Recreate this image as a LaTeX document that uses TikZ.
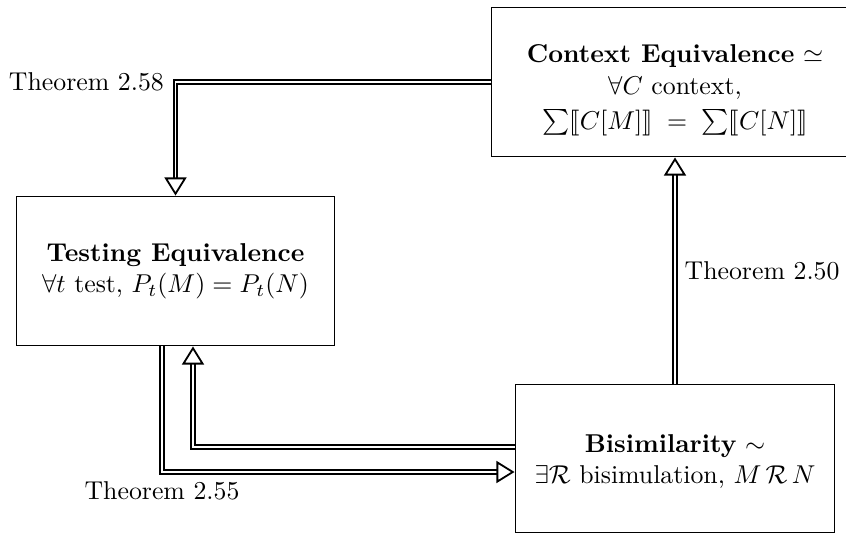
\documentclass[tikz,border=0pt]{standalone}
\usepackage{amsmath,amssymb,stmaryrd}
\usetikzlibrary{arrows.meta}
\begin{document}
\begin{tikzpicture}[x=0.3876pt,y=-0.3876pt,
  box/.style={draw, line width=0.4pt, align=center, inner sep=0pt},
  impl/.style={double, line width=0.8pt, double distance=0.6pt,
    -{Triangle[open, length=7pt, width=8.5pt, line width=0.7pt]}},
  lbl/.style={inner sep=3.33pt}]
\useasboundingbox (0,0) rectangle (846,536);
\node[box, minimum width=123.6pt, minimum height=58.1pt] (test) at (175.5,271)
  {\textbf{Testing Equivalence}\\ $\forall t$ test, $P_t(M) = P_t(N)$};
\node[box, minimum width=141.9pt, minimum height=58.1pt] (ctx) at (675,82)
  {\rule{0pt}{13pt}\textbf{Context Equivalence} $\simeq$\\[0.5pt] $\forall C$ context,\hspace*{4pt}\\[1.5pt] $\sum\llbracket C[M]\rrbracket \;=\; \sum\llbracket C[N]\rrbracket$};
\node[box, minimum width=124pt, minimum height=57pt] (bis) at (675,458.5)
  {\rule{0pt}{9pt}\textbf{Bisimilarity} $\sim$\\ $\exists\mathcal{R}$ bisimulation, $M\,\mathcal{R}\,N$};
% Theorem 2.58
\coordinate (k1) at (test.north |- ctx.west);
\draw[impl] (ctx.west) -- (k1) -- (test.north);
\node[lbl, anchor=east, xshift=-1pt] (l1) at (k1) {Theorem 2.58};
% Theorem 2.50
\draw[impl] (bis.north) -- node[lbl, right] (l2) {Theorem 2.50} (ctx.south);
% bisim -> testing
\coordinate (a3s) at (bis.west |- 0,447);
\coordinate (a3k) at (193,447);
\coordinate (a3e) at (193,0 |- test.south);
\draw[impl] (a3s) -- (a3k) -- (a3e);
% Theorem 2.55
\coordinate (a4s) at (162,0 |- test.south);
\coordinate (a4k) at (162,472);
\coordinate (a4e) at (bis.west |- 0,472);
\draw[impl] (a4s) -- (a4k) -- (a4e);
\node[lbl, anchor=north] (l4) at (a4k) {Theorem 2.55};
\end{tikzpicture}
\end{document}
